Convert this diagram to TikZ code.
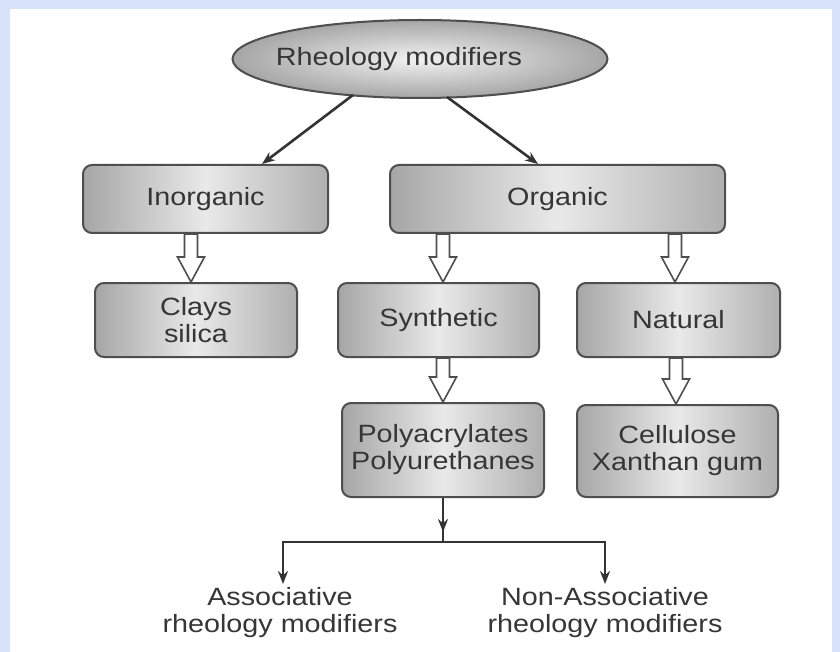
\documentclass[tikz,border=0pt]{standalone}
\usepackage{fontspec}
\usetikzlibrary{shapes.geometric,calc,arrows.meta}
\newfontfamily\boxfont[FakeStretch=1.15]{Liberation Sans}
\definecolor{bluebg}{HTML}{D8E2F8}
\definecolor{boxline}{HTML}{4E4E4E}
\definecolor{boxdark}{HTML}{A6A6A6}
\definecolor{boxlight}{HTML}{E9E9E9}
\definecolor{txt}{HTML}{363636}
\definecolor{conn}{HTML}{333333}
\newcommand{\harrow}[3]{%
  \draw[hollow] let \p1=(#1.south), \p2=(#2.north) in
    ({#3-6.5},\y1) -- ({#3-6.5},{\y2+25pt}) -- ({#3-13.5},{\y2+25pt}) --
    (#3,\y2) -- ({#3+13.5},{\y2+25pt}) -- ({#3+6.5},{\y2+25pt}) --
    ({#3+6.5},\y1) -- cycle;}
\tikzset{
  lbl/.style={font=\boxfont\fontsize{25}{27}\selectfont, text=txt, align=center},
  boxnode/.style={lbl, draw=boxline, line width=2pt, rounded corners=9pt,
    left color=boxdark, right color=boxdark!90!white, middle color=boxlight,
    inner sep=0pt},
  rootnode/.style={lbl, ellipse, draw=boxline, line width=2pt,
    inner color=boxlight!60!white, outer color=boxdark, inner sep=0pt},
  arr/.style={draw=conn, line width=2.6pt, -{Stealth[length=13pt,width=10pt]}},
  plain/.style={draw=conn, line width=2.6pt},
  hollow/.style={draw=boxline, line width=1.6pt, fill=white, line join=miter},
}
\begin{document}
\begin{tikzpicture}[x=1pt,y=-1pt]
\useasboundingbox (0,0) rectangle (840,652);
\fill[bluebg] (0,0) rectangle (840,652);
\fill[white] (10,9) rectangle (832,660);

\node[rootnode, minimum width=375pt, minimum height=78pt] (root) at (420,59)
  {\makebox[0pt]{Rheology modifiers\hspace*{42pt}}};

\node[boxnode, minimum width=245pt, minimum height=68pt] (inorg) at (205.5,199) {Inorganic};
\node[boxnode, minimum width=335pt, minimum height=68pt] (org) at (557.5,199) {Organic};
\node[boxnode, minimum width=202pt, minimum height=74pt] (clays) at (196,320) {Clays\\silica};
\node[boxnode, minimum width=201pt, minimum height=74pt] (synth) at (438.5,320) {Synthetic};
\node[boxnode, minimum width=203pt, minimum height=74pt] (natural) at (678.5,320) {Natural};
\node[boxnode, minimum width=202pt, minimum height=94pt] (poly) at (443,450) {Polyacrylates\\Polyurethanes};
\node[boxnode, minimum width=201pt, minimum height=92pt] (cell) at (677.5,451) {Cellulose\\Xanthan gum};

\node[lbl] (assoc) at (280,613) {Associative\\rheology modifiers};
\node[lbl] (nonassoc) at (605,613) {Non-Associative\\rheology modifiers};

% arrows from root
\draw[arr] ($(root.center)+(-67,36)$) -- ($(inorg.north)+(56.5,0)$);
\draw[arr] ($(root.center)+(27,38)$) -- ($(org.north)+(-19.5,0)$);

% hollow arrows
\harrow{inorg}{clays}{191}
\harrow{org}{synth}{443}
\harrow{org}{natural}{675}
\harrow{synth}{poly}{443}
\harrow{natural}{cell}{676}

% split connector
\coordinate (junction) at (443,542);
\coordinate (midtip) at (443,532);
\coordinate (lefttip) at (283,584);
\coordinate (righttip) at (605,584);
\draw[plain] (poly.south) -- (junction);
\draw[arr] (poly.south) -- (midtip);
\draw[arr] (junction) -| (lefttip);
\draw[arr] (junction) -| (righttip);
\end{tikzpicture}
\end{document}
